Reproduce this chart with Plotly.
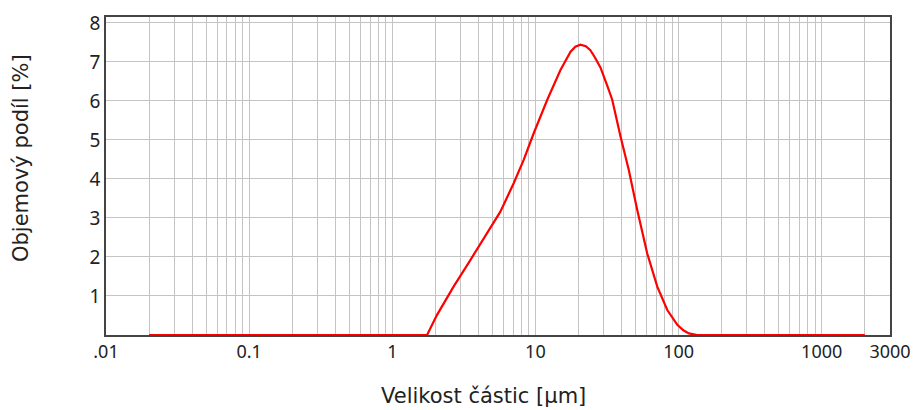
import plotly.graph_objects as go

# particle size [µm]
size_um = [0.02, 1.0, 1.75, 2.05, 2.68, 3.51, 4.59, 5.69, 7.05, 8.28, 9.73, 12.1,
           14.96, 17.6, 19.0, 20.6, 22.5, 24.2, 26.0, 28.5, 31.7, 34.4, 39.3, 44.9,
           51.4, 60.4, 71.0, 83.4, 98.0, 108.0, 118.0, 135.0, 500.0, 2000.0]
# volume fraction [%]
volume_pct = [0.0, 0.0, 0.0, 0.51, 1.24, 1.92, 2.61, 3.16, 3.89, 4.49, 5.17, 6.03,
              6.79, 7.26, 7.39, 7.44, 7.40, 7.30, 7.12, 6.85, 6.40, 6.03, 5.09, 4.23,
              3.21, 2.09, 1.24, 0.64, 0.26, 0.12, 0.04, 0.0, 0.0, 0.0]

x_label_vals = [0.01, 0.1, 1, 10, 100, 1000, 3000]
x_label_text = [".01", "0.1", "1", "10", "100", "1000", "3000"]
y_tick_vals = [1, 2, 3, 4, 5, 6, 7, 8]

x_title = "Velikost částic [µm]"
y_title = "Objemový podíl [%]"

# gridline positions (log decades and their multiples)
grid_vals = []
grid_text = []
for dec in [0.01, 0.1, 1, 10, 100, 1000]:
    for m in range(1, 10):
        v = round(dec * m, 6)
        if v > 3000:
            continue
        grid_vals.append(v)
        grid_text.append(x_label_text[x_label_vals.index(v)] if v in x_label_vals else "")
grid_vals.append(3000)
grid_text.append("3000")

# the page body has an 8px margin; the figure is sized/positioned to compensate
OFF = 8
W, H = 919 - OFF, 410 - OFF
L, R, T, B = 106 - OFF, 29, 17 - OFF, 75

fig = go.Figure()
fig.add_trace(go.Scatter(x=size_um, y=volume_pct, mode="lines",
                         line=dict(color="#ff0000", width=2.2), showlegend=False))

tick_font = "Noto Sans, Liberation Sans, sans-serif"
title_font = "DejaVu Sans, Verdana, sans-serif"
fig.update_layout(
    width=W, height=H,
    margin=dict(l=L, r=R, t=T, b=B, autoexpand=False),
    plot_bgcolor="white", paper_bgcolor="white",
    font=dict(family=tick_font, size=18, color="#222222"),
    xaxis=dict(type="log", range=[-2, 3.4771], tickvals=grid_vals, ticktext=grid_text,
               showgrid=True, gridcolor="#c4c4c4", gridwidth=1.3,
               showline=True, linecolor="#444444", linewidth=1.5, mirror=True,
               ticks="", zeroline=False, automargin=False,
               tickfont=dict(size=18, family=tick_font, color="#222222")),
    yaxis=dict(range=[0, 8.15], tickvals=y_tick_vals,
               showgrid=True, gridcolor="#c4c4c4", gridwidth=1.3,
               showline=True, linecolor="#444444", linewidth=1.5, mirror=True,
               ticks="", zeroline=False, automargin=False,
               tickfont=dict(size=19, family=tick_font, color="#222222")),
)

pw = W - L - R
ph = H - T - B


def to_paper(px, py):
    # px, py are target page pixel positions
    fx, fy = px - OFF, py - OFF
    return (fx - L) / pw, 1 - (fy - T) / ph


ax_, ay_ = to_paper(483, 396)
bx_, by_ = to_paper(21, 158)
fig.add_annotation(text=x_title, x=ax_, y=ay_, xref="paper", yref="paper",
                   showarrow=False, xanchor="center", yanchor="middle",
                   font=dict(size=21, family=title_font, color="#222222"))
fig.add_annotation(text=y_title, x=bx_, y=by_, xref="paper", yref="paper",
                   showarrow=False, xanchor="center", yanchor="middle", textangle=-90,
                   font=dict(size=21, family=title_font, color="#222222"))

fig.write_html("out.html")
